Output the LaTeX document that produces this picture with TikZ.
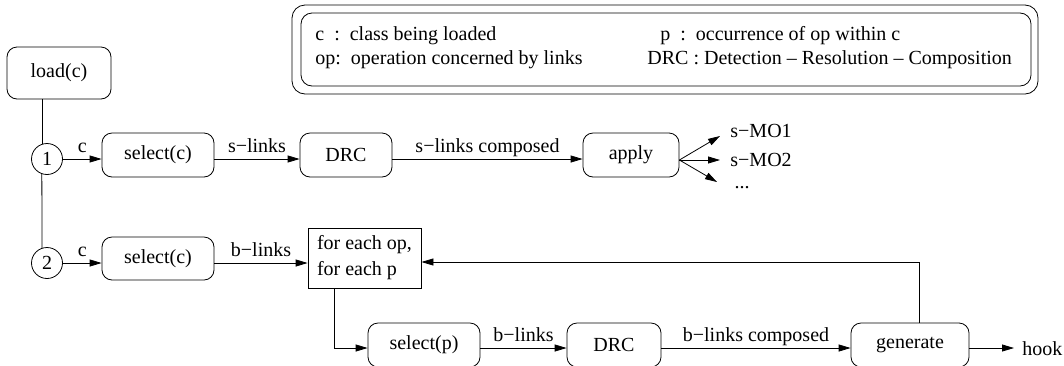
\documentclass[tikz,border=0pt]{standalone}
\usepackage{fontspec}
\setmainfont{Liberation Serif}
\usetikzlibrary{arrows.meta}
\begin{document}
\begin{tikzpicture}[x=1pt,y=-1pt,
  line width=0.8pt,
  every node/.style={font=\fontsize{20}{26}\selectfont},
  rbox/.style={draw, rounded corners=10pt, minimum height=44pt, inner sep=0pt},
  num/.style={draw, circle, minimum size=31pt, inner sep=0pt},
  lbl/.style={inner sep=0pt},
  alab/.style={inner sep=0pt, midway, anchor=base, yshift=7pt},
  arr/.style={-{Triangle[length=12pt,width=7pt]}}
]
\useasboundingbox (0,0) rectangle (1064,365);
% legend
\node[draw, rounded corners=13pt, minimum width=746pt, minimum height=89pt, inner sep=0pt] (lego) at (665,49.5) {};
\node[draw, rounded corners=11pt, minimum width=730pt, minimum height=73pt, inner sep=0pt] (legi) at (666,49.5) {};
\node[lbl, anchor=base west] (l1) at (315,40) {c\ \ :\ \ class being loaded};
\node[lbl, anchor=base west] (l2) at (315,64) {op:\ \ operation concerned by links};
\node[lbl, anchor=base west] (l3) at (660,40) {p\ \ :\ \ occurrence of op within c};
\node[lbl, anchor=base west] (l4) at (647,64) {DRC : Detection -- Resolution -- Composition};
% nodes
\node[rbox, minimum width=104pt, minimum height=52pt] (load) at (59,73) {load(c)};
\node[num] (c1) at (47,159) {1};
\node[num] (c2) at (47,263) {2};
\node[rbox, minimum width=112pt] (sel1) at (158,155) {select(c)};
\node[rbox, minimum width=92pt] (drc1) at (346,155) {DRC};
\node[rbox, minimum width=96pt] (apply) at (631,155) {apply};
\node[rbox, minimum width=112pt, minimum height=43pt] (sel2) at (158,258.5) {select(c)};
\node[draw, minimum width=113pt, minimum height=60pt, inner sep=4pt, align=left] (each) at (364.5,258) {for each op,\\for each p};
\node[rbox, minimum width=112pt] (selp) at (424,345) {select(p)};
\node[rbox, minimum width=94pt] (drc2) at (614,345) {DRC};
\node[rbox, minimum width=118pt] (gen) at (910,345) {generate};
\node[lbl, anchor=base west] (hook) at (1022,355) {hook};
\node[lbl, anchor=base west] (mo1) at (730,137) {s−MO1};
\node[lbl, anchor=base west] (mo2) at (730,166) {s−MO2};
\node[lbl, anchor=base] (mo3) at (742,188) {...};
% vertical connectors
\draw (c1.108.8 |- load.south) -- (c1.108.8);
\draw (c1.251.2) -- (c2.108.8);
% row 1
\draw[arr] (c1.east) -- (sel1.west |- c1.east) node[alab] {c};
\draw[arr] (sel1.east |- c1.east) -- (drc1.west |- c1.east) node[alab] {s−links};
\draw[arr] (drc1.east |- c1.east) -- (apply.west |- c1.east) node[alab] {s−links composed};
\coordinate (ap) at (apply.east |- 0,160);
\draw[arr] (ap) -- (720,136);
\draw[arr] (ap) -- (720,160);
\draw[arr] (ap) -- (717,182);
% row 2
\draw[arr] (c2.east) -- (sel2.west |- c2.east) node[alab] {c};
\draw[arr] (sel2.east |- c2.east) -- (each.west |- c2.east) node[alab] {b−links};
\draw[arr] (gen.north -| 919,0) -- (919,262) -- (each.east |- 0,262);
\draw[arr] (each.south -| 334,0) -- (334,348) -- (selp.west |- 0,348);
\draw[arr] (selp.east |- 0,348) -- (drc2.west |- 0,348) node[alab] {b−links};
\draw[arr] (drc2.east |- 0,348) -- (gen.west |- 0,348) node[alab] {b−links composed};
\draw[arr] (gen.east |- 0,348) -- (1014,348);
\end{tikzpicture}
\end{document}
